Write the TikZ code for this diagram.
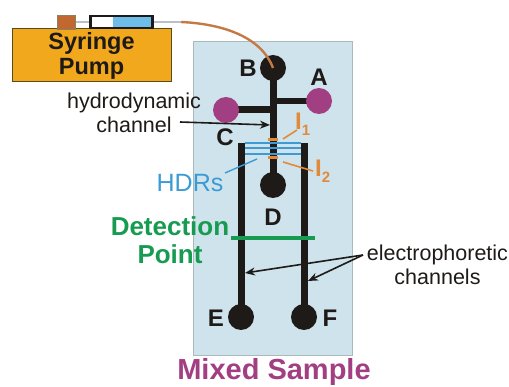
\documentclass[tikz,border=0pt]{standalone}
\usepackage{fontspec}
\setmainfont{Liberation Sans}
\usetikzlibrary{arrows.meta}
\definecolor{chip}{HTML}{CFE3EC}
\definecolor{chipedge}{HTML}{A9B9BC}
\definecolor{pump}{HTML}{F2A81D}
\definecolor{pumpedge}{HTML}{5A4A20}
\definecolor{plug}{HTML}{C0682F}
\definecolor{bluefill}{HTML}{6DBDE8}
\definecolor{tube}{HTML}{B9BFCB}
\definecolor{curve}{HTML}{C47A45}
\definecolor{ink}{HTML}{1E1A18}
\definecolor{purple}{HTML}{A23F83}
\definecolor{hdr}{HTML}{3B9BD5}
\definecolor{lab}{HTML}{E08A3A}
\definecolor{det}{HTML}{169B50}
\tikzset{
  well/.style={circle,fill=ink,minimum size=26pt,inner sep=0pt},
  pwell/.style={circle,fill=purple,minimum size=26pt,inner sep=0pt},
  chan/.style={ink,line width=7pt},
  pt/.style={coordinate},
  lbl/.style={font=\fontsize{24}{24}\selectfont\bfseries,text=ink,inner sep=0pt,anchor=center},
  small/.style={font=\fontsize{21.5}{24}\selectfont,text=ink,align=center,inner sep=0pt},
  call/.style={-{Stealth[length=10pt,width=8pt]},ink,line width=1.6pt},
  orangeline/.style={lab,line width=1.6pt},
  hdrline/.style={hdr,line width=1.2pt},
}
\newcommand{\subnum}[1]{\raisebox{-6pt}{\fontsize{15}{15}\selectfont #1}}
\begin{document}
\begin{tikzpicture}[x=1pt,y=-1pt]
\useasboundingbox (0,0) rectangle (509,387);
% chip
\node[draw=chipedge,fill=chip,line width=0.8pt,minimum width=159pt,minimum height=314pt,inner sep=0pt] (chiprect) at (272.5,198) {};
% tube and pump
\node[pt] (tubeA) at (75,22) {};
\node[pt] (tubeB) at (90,22) {};
\node[pt] (tubeC) at (153,22) {};
\node[pt] (tubeD) at (181,22) {};
\draw[tube,line width=1.5pt] (tubeA) -- (tubeB) (tubeC) -- (tubeD);
\node[draw=pumpedge,fill=pump,line width=1pt,minimum width=159pt,minimum height=53pt,inner sep=0pt,font=\fontsize{23.5}{26}\selectfont\bfseries,text=ink,align=center] (pumpbox) at (91.5,55.5) {\raisebox{-1pt}{Syringe}\\Pump};
\node[draw=pumpedge!70,fill=plug,line width=.6pt,minimum width=18pt,minimum height=14pt,inner sep=0pt] (plugbox) at (66,22) {};
\node[fill=white,minimum width=62pt,minimum height=12pt,inner sep=0pt] (syr) at (121.5,22) {};
\node[fill=bluefill,minimum width=38pt,minimum height=11pt,inner sep=0pt] (syrfill) at (132,22) {};
\node[draw=ink,line width=2.2pt,minimum width=62pt,minimum height=12pt,inner sep=0pt] (syrframe) at (121.5,22) {};
% channels
\node[pt] (jA) at (273,101) {};
\node[pt] (jC) at (273,110) {};
\node[pt] (topE) at (241,143) {};
\node[pt] (topF) at (304,143) {};
\node[pt] (cB) at (273,68) {};
\node[pt] (cD) at (273,185) {};
\node[pt] (cA) at (319,101) {};
\node[pt] (cC) at (226,110) {};
\node[pt] (cE) at (241,317) {};
\node[pt] (cF) at (304,317) {};
\draw[chan] (cB) -- (cD);
\draw[chan,line width=6pt] (jA) -- (cA);
\draw[chan] (jC) -- (cC);
\draw[chan] (topE) -- (cE);
\draw[chan] (topF) -- (cF);
\node[well] (B) at (cB) {};
\node[pwell] (A) at (cA) {};
\node[pwell] (C) at (cC) {};
\node[well] (D) at (cD) {};
\node[well] (E) at (cE) {};
\node[well] (F) at (cF) {};
\draw[curve,line width=2.4pt] (tubeD) .. controls (225,24) and (262,38) .. (B.center);
% HDRs
\foreach \y/\n in {143/a,148/b,154/c}{
  \node[pt] (h\n l) at (245,\y) {};
  \node[pt] (h\n r) at (301,\y) {};
  \draw[hdrline] (h\n l) -- (h\n r);
}
% orange marks
\node[pt] (m1l) at (268,140) {};
\node[pt] (m1r) at (278,140) {};
\node[pt] (m2l) at (268,158) {};
\node[pt] (m2r) at (278,158) {};
\draw[lab,line width=3pt] (m1l) -- (m1r) (m2l) -- (m2r);
% labels
\node[lbl] (lB) at (248,68) {B};
\node[lbl] (lA) at (319,77) {A};
\node[lbl] (lC) at (225,137) {C};
\node[lbl] (lD) at (273,217) {D};
\node[lbl] (lE) at (216,318) {E};
\node[lbl] (lF) at (330,318) {F};
\node[lbl,text=lab,anchor=base west] (l1) at (295,130) {I\subnum{1}};
\node[lbl,text=lab,anchor=base west] (l2) at (315,177) {I\subnum{2}};
\node[pt] (c1a) at (297,130) {};
\node[pt] (c1b) at (283,139) {};
\node[pt] (c2a) at (313,171) {};
\node[pt] (c2b) at (283,162) {};
\draw[orangeline] (c1a) -- (c1b);
\draw[orangeline] (c2a) -- (c2b);
\node[font=\fontsize{25}{25}\selectfont,text=hdr,inner sep=0pt] (hdrs) at (190,183) {HDRs};
\node[pt] (hs) at (225,173) {};
\node[pt] (hp) at (257,159) {};
\draw[hdr,line width=1.4pt] (hs) -- (hp);
\node[small] (hyd) at (134,113) {hydrodynamic\\channel};
\node[pt] (hstart) at (180,122) {};
\node[pt] (harrow) at (270,125) {};
\draw[call] (hstart) -- (harrow);
\node[font=\fontsize{26}{28}\selectfont\bfseries,text=det,align=center,inner sep=0pt] (detlab) at (170,240) {Detection\\Point};
\node[pt] (dl) at (231,238.5) {};
\node[pt] (dr) at (315,238.5) {};
\draw[det,line width=4pt] (dl) -- (dr);
\node[small] (ep) at (437.5,265) {electrophoretic\\channels};
\node[pt] (ej) at (363,255) {};
\node[pt] (ea) at (245,273) {};
\node[pt] (eb) at (308,281) {};
\draw[call] (ej) -- (ea);
\draw[call] (ej) -- (eb);
\node[font=\fontsize{29}{30}\selectfont\bfseries,text=purple,inner sep=0pt] (ms) at (274,372.5) {Mixed Sample};
\end{tikzpicture}
\end{document}
